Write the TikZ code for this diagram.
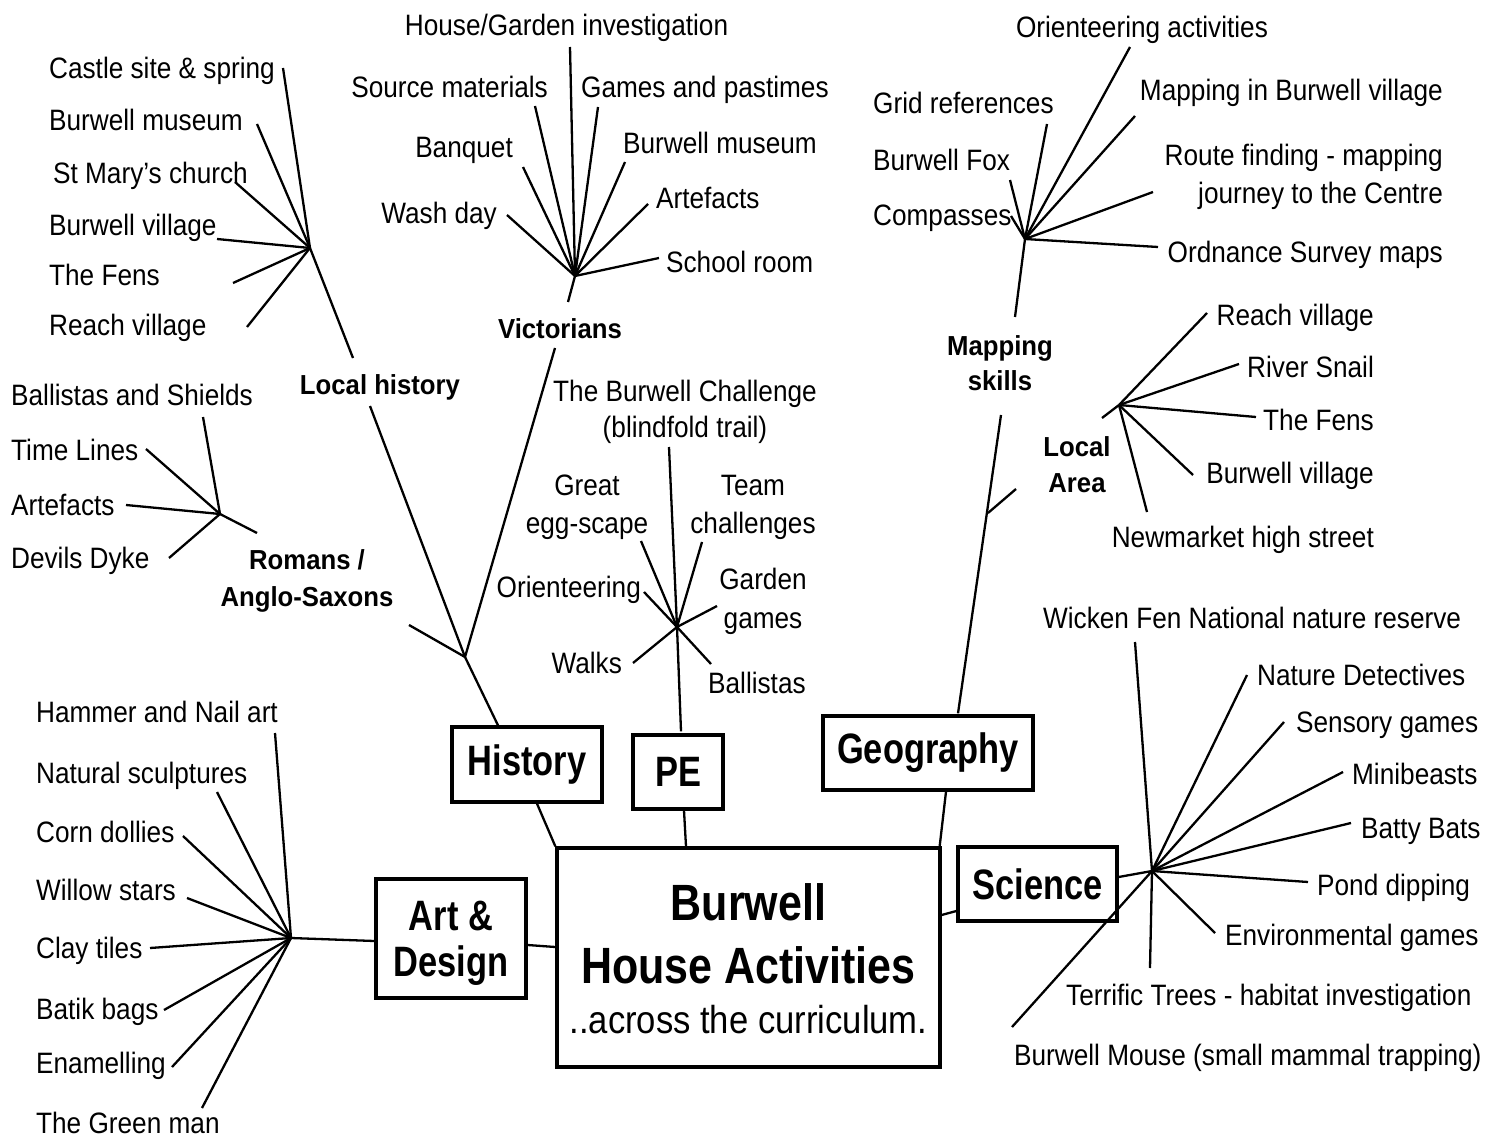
\documentclass[tikz,border=0pt]{standalone}
\usepackage{fontspec}
\setmainfont{Liberation Sans}[FakeStretch=0.888]
\newfontfamily\topicfont{Liberation Sans}[FakeStretch=0.935]
\newfontfamily\boxfont{Liberation Sans}[FakeStretch=0.81]
\newfontfamily\titlefont{Liberation Sans}[FakeStretch=0.843]
\usetikzlibrary{calc}

\begin{document}
\begin{tikzpicture}[x=1pt,y=-1pt,line width=2.3pt,
box node/.style={draw,line width=3.3pt,inner sep=0pt,align=center,font=\boxfont\fontsize{42.5}{46}\selectfont\bfseries},
leaf node/.style={inner sep=0pt,text height=21.1pt,text depth=0pt,font=\fontsize{29.5}{37}\selectfont},
pair node/.style={inner sep=0pt,align=center,font=\fontsize{29.5}{37}\selectfont},
topic node/.style={inner sep=0pt,align=center,font=\topicfont\fontsize{27.5}{36}\selectfont\bfseries}]
\useasboundingbox (0,0) rectangle (1496,1139);

\node[box node,minimum width=383pt,minimum height=219pt] (centre) at (748.5,957.5) {};
\node[inner sep=0pt,align=center,font=\titlefont\fontsize{51}{63}\selectfont\bfseries] (title) at (748.5,933.5) {Burwell\\House Activities};
\node[inner sep=0pt,font=\fontsize{39}{44}\selectfont] (subtitle) at (748.5,1020) {..across the curriculum.};
\node[box node,minimum width=150pt,minimum height=75pt] (history) at (527,764.5) {History};
\node[box node,minimum width=90pt,minimum height=74pt] (pe) at (678,772) {PE};
\node[box node,minimum width=210pt,minimum height=74pt] (geography) at (928,753) {Geography};
\node[box node,minimum width=159pt,minimum height=74pt] (science) at (1037.5,884) {Science};
\node[box node,minimum width=150pt,minimum height=119pt] (art) at (451,938.5) {Art \&\\\smash{Design}};

\path ($(history.south)+(10,0)$) edge (centre.north west)
      ($(pe.south)+(6,0)$) edge ($(centre.north)+(-62.5,0)$)
      ($(geography.south)+(18,0)$) edge ($(centre.north east)+(-2,0)$)
      ($(science.west)+(0,27)$) edge ($(centre.east)+(0,-42.5)$)
      ($(art.east)+(0,6.5)$) edge ($(centre.west)+(0,-10.5)$);

\coordinate (hhub) at (465,657);
\coordinate (lhfoot) at (370,406);
\coordinate (vicfoot) at (555,348);
\coordinate (romfoot) at (409,625);
\path ($(history.north)+(-29,0)$) edge (hhub)
      (hhub) edge (lhfoot)
      (hhub) edge (vicfoot)
      (hhub) edge (romfoot);

\node[topic node] (lochist) at (380,387) {Local history};
\coordinate (lhhub) at (310,248);
\coordinate (lhtop) at (353,358);
\node[leaf node,anchor=west] (castle) at (48,68) {Castle site \& spring};
\node[leaf node,anchor=west] (lhmuseum) at (48,120) {Burwell museum};
\node[leaf node,anchor=west] (church) at (52,173) {St Mary’s church};
\node[leaf node,anchor=west] (lhvillage) at (48,225) {Burwell village};
\node[leaf node,anchor=west] (lhfens) at (48,275) {The Fens};
\node[leaf node,anchor=west] (lhreach) at (48,325) {Reach village};
\coordinate (castle-e) at (283,68);
\coordinate (lhmuseum-e) at (257,124);
\coordinate (church-e) at (235,182);
\coordinate (lhvillage-e) at (217,239);
\coordinate (lhfens-e) at (233,283);
\coordinate (lhreach-e) at (247,327);
\path (lhhub) edge (lhtop)
      (lhhub) edge (castle-e)
      (lhhub) edge (lhmuseum-e)
      (lhhub) edge (church-e)
      (lhhub) edge (lhvillage-e)
      (lhhub) edge (lhfens-e)
      (lhhub) edge (lhreach-e);

\node[topic node,font=\topicfont\fontsize{27.5}{37}\selectfont\bfseries] (romans) at (307,581) {Romans /\\Anglo-Saxons};
\coordinate (romhub) at (220,514);
\coordinate (romtop) at (257,533);
\node[leaf node,anchor=west] (shields) at (10,395) {Ballistas and Shields};
\node[leaf node,anchor=west] (timelines) at (10,450) {Time Lines};
\node[leaf node,anchor=west] (romartefacts) at (10,505) {Artefacts};
\node[leaf node,anchor=west] (dyke) at (10,558) {Devils Dyke};
\coordinate (shields-e) at (203,417);
\coordinate (timelines-e) at (146,449);
\coordinate (romartefacts-e) at (126,505);
\coordinate (dyke-e) at (169,558);
\path (romhub) edge (romtop)
      (romhub) edge (shields-e)
      (romhub) edge (timelines-e)
      (romhub) edge (romartefacts-e)
      (romhub) edge (dyke-e);

\node[topic node] (victorians) at (560,329) {Victorians};
\coordinate (vichub) at (575,276);
\coordinate (victop) at (568,302);
\node[leaf node] (garden) at (566.5,25) {House/Garden investigation};
\node[leaf node,anchor=east] (source) at (549,87) {Source materials};
\node[leaf node,anchor=west] (games) at (580,87) {Games and pastimes};
\node[leaf node,anchor=east] (banquet) at (514,147) {Banquet};
\node[leaf node,anchor=west] (vicmuseum) at (622,143) {Burwell museum};
\node[leaf node,anchor=east] (washday) at (498,213) {Wash day};
\node[leaf node,anchor=west] (vicartefacts) at (655,198) {Artefacts};
\node[leaf node,anchor=west] (school) at (665,262) {School room};
\coordinate (garden-e) at (570,47);
\coordinate (source-e) at (535,106);
\coordinate (games-e) at (598,107);
\coordinate (banquet-e) at (523,167);
\coordinate (vicmuseum-e) at (625,162);
\coordinate (washday-e) at (507,215);
\coordinate (vicartefacts-e) at (648,204);
\coordinate (school-e) at (659,258);
\path (vichub) edge (victop)
      (vichub) edge (garden-e)
      (vichub) edge (source-e)
      (vichub) edge (games-e)
      (vichub) edge (banquet-e)
      (vichub) edge (vicmuseum-e)
      (vichub) edge (washday-e)
      (vichub) edge (vicartefacts-e)
      (vichub) edge (school-e);

\coordinate (pehub) at (677,627);
\node[pair node,font=\fontsize{29.5}{36}\selectfont] (challenge) at (685,412) {The Burwell Challenge\\(blindfold trail)};
\node[pair node,font=\fontsize{29.5}{38}\selectfont] (eggscape) at (587,507) {Great\\egg-scape};
\node[pair node,font=\fontsize{29.5}{38}\selectfont] (team) at (753,507) {Team\\challenges};
\node[leaf node,anchor=east] (peorient) at (642,587) {Orienteering};
\node[pair node,font=\fontsize{29.5}{39}\selectfont] (gardengames) at (763,601) {Garden\\games};
\node[leaf node,anchor=east] (walks) at (623,663) {Walks};
\node[leaf node,anchor=west] (peballistas) at (707,683) {Ballistas};
\coordinate (challenge-e) at (669,447);
\coordinate (eggscape-e) at (641,541);
\coordinate (team-e) at (702,542);
\coordinate (peorient-e) at (644,592);
\coordinate (gardengames-e) at (717,606);
\coordinate (walks-e) at (633,663);
\coordinate (peballistas-e) at (711,664);
\path ($(pe.north)+(3,-2)$) edge (pehub)
      (pehub) edge (challenge-e)
      (pehub) edge (eggscape-e)
      (pehub) edge (team-e)
      (pehub) edge (peorient-e)
      (pehub) edge (gardengames-e)
      (pehub) edge (walks-e)
      (pehub) edge (peballistas-e);

\coordinate (geofoot) at (1001,415);
\coordinate (labranch) at (988,513);
\coordinate (latop) at (1016,489);
\path ($(geography.north)+(30,-1)$) edge (geofoot)
      (labranch) edge (latop);

\node[topic node,font=\topicfont\fontsize{27.5}{35}\selectfont\bfseries] (mapping) at (1000,363.5) {Mapping\\skills};
\coordinate (maphub) at (1025,239);
\coordinate (mapfoot) at (1015,317);
\node[leaf node] (orientact) at (1142,27) {Orienteering activities};
\node[leaf node,anchor=east] (mapvillage) at (1444,90) {Mapping in Burwell village};
\node[pair node,font=\fontsize{29.5}{38}\selectfont,align=right,anchor=east] (route) at (1444,177) {Route finding - mapping\\journey to the Centre};
\node[leaf node,anchor=east] (ordnance) at (1444,252) {Ordnance Survey maps};
\node[leaf node,anchor=west] (grid) at (872,103) {Grid references};
\node[leaf node,anchor=west] (fox) at (872,160) {Burwell Fox};
\node[leaf node,anchor=west] (compasses) at (872,215) {Compasses};
\coordinate (orientact-e) at (1130,47);
\coordinate (mapvillage-e) at (1135,116);
\coordinate (route-e) at (1153,192);
\coordinate (ordnance-e) at (1158,247);
\coordinate (grid-e) at (1047,124);
\coordinate (fox-e) at (1010,180);
\coordinate (compasses-e) at (1011,216);
\path (maphub) edge (mapfoot)
      (maphub) edge (orientact-e)
      (maphub) edge (mapvillage-e)
      (maphub) edge (route-e)
      (maphub) edge (ordnance-e)
      (maphub) edge (grid-e)
      (maphub) edge (fox-e)
      (maphub) edge (compasses-e);

\node[topic node] (localarea) at (1077,465) {Local\\Area};
\coordinate (lahub) at (1119,405);
\coordinate (lafoot) at (1102,418);
\node[leaf node,anchor=east] (lareach) at (1375,315) {Reach village};
\node[leaf node,anchor=east] (snail) at (1375,367) {River Snail};
\node[leaf node,anchor=east] (lafens) at (1375,420) {The Fens};
\node[leaf node,anchor=east] (lavillage) at (1375,473) {Burwell village};
\node[leaf node,anchor=east] (newmarket) at (1375,537) {Newmarket high street};
\coordinate (lareach-e) at (1207,313);
\coordinate (snail-e) at (1239,364);
\coordinate (lafens-e) at (1256,417);
\coordinate (lavillage-e) at (1193,475);
\coordinate (newmarket-e) at (1147,512);
\path (lahub) edge (lafoot)
      (lahub) edge (lareach-e)
      (lahub) edge (snail-e)
      (lahub) edge (lafens-e)
      (lahub) edge (lavillage-e)
      (lahub) edge (newmarket-e);

\coordinate (arthub) at (291,938);
\node[leaf node,anchor=west] (hammer) at (35,712) {Hammer and Nail art};
\node[leaf node,anchor=west] (sculptures) at (35,773) {Natural sculptures};
\node[leaf node,anchor=west] (dollies) at (35,832) {Corn dollies};
\node[leaf node,anchor=west] (willow) at (35,890) {Willow stars};
\node[leaf node,anchor=west] (clay) at (35,948) {Clay tiles};
\node[leaf node,anchor=west] (batik) at (35,1009) {Batik bags};
\node[leaf node,anchor=west] (enamel) at (35,1063) {Enamelling};
\node[leaf node,anchor=west] (greenman) at (35,1123) {The Green man};
\coordinate (hammer-e) at (275,733);
\coordinate (sculptures-e) at (217,792);
\coordinate (dollies-e) at (183,836);
\coordinate (willow-e) at (187,898);
\coordinate (clay-e) at (150,948);
\coordinate (batik-e) at (164,1010);
\coordinate (enamel-e) at (172,1067);
\coordinate (greenman-e) at (202,1108);
\path (arthub) edge ($(art.west)+(0,2.5)$)
      (arthub) edge (hammer-e)
      (arthub) edge (sculptures-e)
      (arthub) edge (dollies-e)
      (arthub) edge (willow-e)
      (arthub) edge (clay-e)
      (arthub) edge (batik-e)
      (arthub) edge (enamel-e)
      (arthub) edge (greenman-e);

\coordinate (scihub) at (1152,871);
\node[leaf node,anchor=west] (wicken) at (1042,618) {Wicken Fen National nature reserve};
\node[leaf node,anchor=west] (detectives) at (1256,675) {Nature Detectives};
\node[leaf node,anchor=west] (sensory) at (1295,722) {Sensory games};
\node[leaf node,anchor=west] (minibeasts) at (1351,774) {Minibeasts};
\node[leaf node,anchor=west] (bats) at (1360,828) {Batty Bats};
\node[leaf node,anchor=west] (pond) at (1316,885) {Pond dipping};
\node[leaf node,anchor=west] (envgames) at (1224,935) {Environmental games};
\node[leaf node,anchor=west] (trees) at (1065,995) {Terrific Trees - habitat investigation};
\node[leaf node,anchor=west] (mouse) at (1013,1055) {Burwell Mouse (small mammal trapping)};
\coordinate (wicken-e) at (1135,642);
\coordinate (detectives-e) at (1247,675);
\coordinate (sensory-e) at (1284,722);
\coordinate (minibeasts-e) at (1343,772);
\coordinate (bats-e) at (1351,823);
\coordinate (pond-e) at (1308,882);
\coordinate (envgames-e) at (1215,933);
\coordinate (trees-e) at (1150,968);
\coordinate (mouse-e) at (1012,1027);
\path ($(science.east)+(0,-7)$) edge (scihub)
      (scihub) edge (wicken-e)
      (scihub) edge (detectives-e)
      (scihub) edge (sensory-e)
      (scihub) edge (minibeasts-e)
      (scihub) edge (bats-e)
      (scihub) edge (pond-e)
      (scihub) edge (envgames-e)
      (scihub) edge (trees-e)
      (scihub) edge (mouse-e);
\end{tikzpicture}
\end{document}
